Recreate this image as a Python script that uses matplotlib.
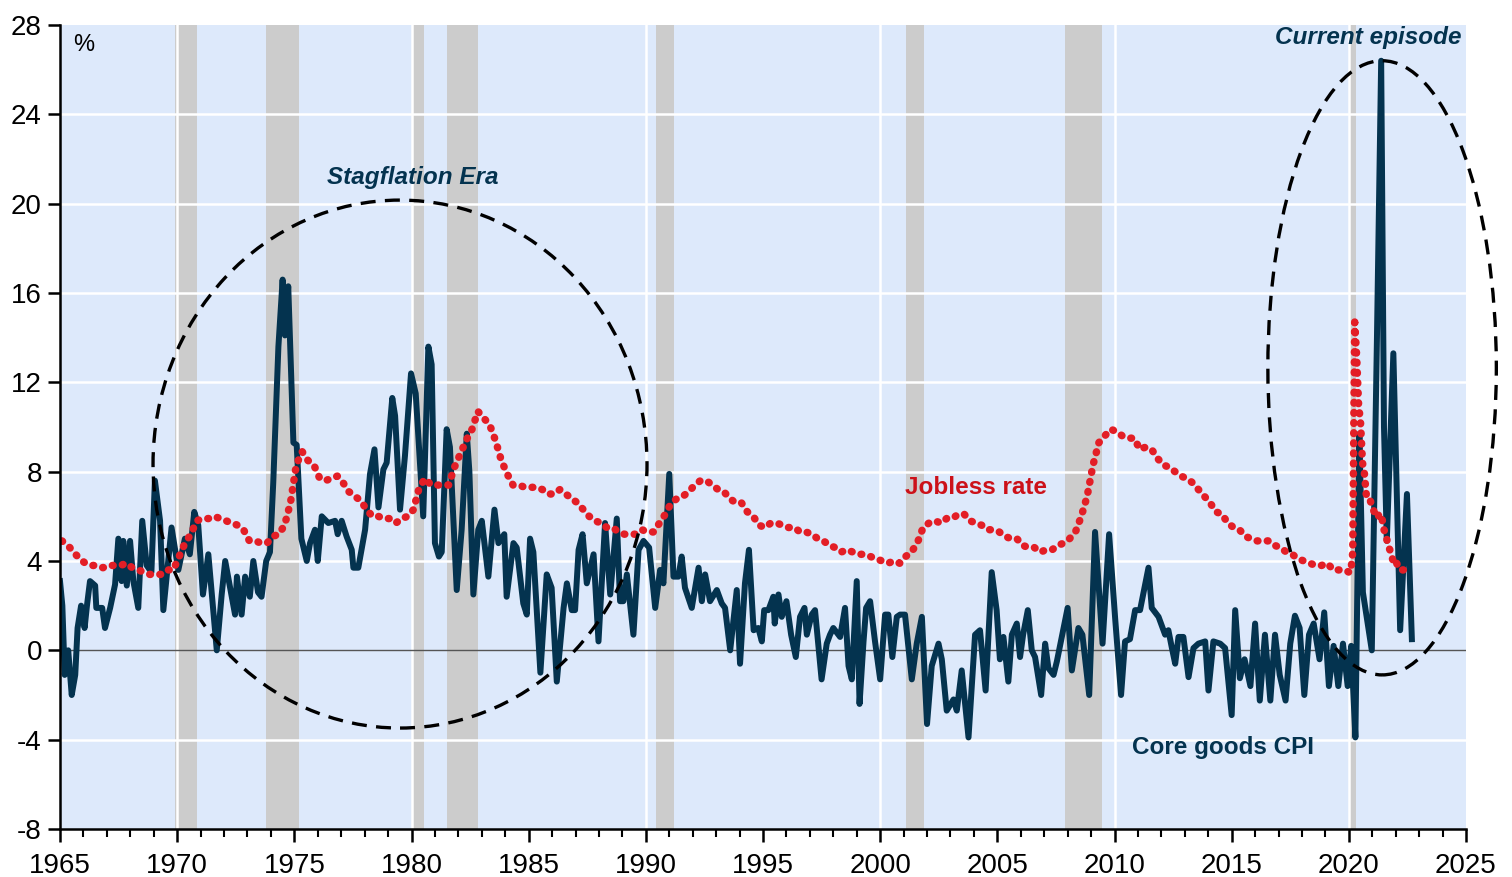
import numpy as np
import matplotlib
matplotlib.use("Agg")
import matplotlib.pyplot as plt
from matplotlib.patches import Ellipse

plt.rcParams['font.family'] = ['Liberation Sans', 'DejaVu Sans']

# ---------------- data ----------------
recessions = [(1969.9, 1970.85), (1973.8, 1975.2), (1980.0, 1980.55), (1981.5, 1982.85),
              (1990.45, 1991.2), (2001.1, 2001.85), (2007.9, 2009.45), (2020.05, 2020.3)]

# Jobless rate, quarterly 1965Q1-2019Q4 (%)
jobless_quarterly = [
    4.9, 4.7, 4.4, 4.1, 3.9, 3.8, 3.8, 3.7, 3.8, 3.8, 3.8, 3.9, 3.7, 3.6, 3.5, 3.4,
    3.4, 3.4, 3.6, 3.6, 4.2, 4.8, 5.2, 5.8, 5.9, 5.9, 6.0, 5.9, 5.8, 5.7, 5.6, 5.4,
    4.9, 4.9, 4.8, 4.8, 5.1, 5.2, 5.6, 6.6, 8.3, 8.9, 8.5, 8.3, 7.7, 7.6, 7.7, 7.8,
    7.5, 7.1, 6.9, 6.7, 6.3, 6.0, 6.0, 5.9, 5.9, 5.7, 5.9, 6.0, 6.3, 7.3, 7.7, 7.4,
    7.4, 7.4, 7.4, 8.2, 8.8, 9.4, 9.9, 10.7, 10.4, 10.1, 9.4, 8.5, 7.9, 7.4, 7.4, 7.3,
    7.3, 7.3, 7.2, 7.0, 7.0, 7.2, 7.0, 6.8, 6.6, 6.3, 6.0, 5.8, 5.7, 5.5, 5.5, 5.3,
    5.2, 5.2, 5.2, 5.4, 5.3, 5.3, 5.7, 6.1, 6.6, 6.8, 6.9, 7.1, 7.4, 7.6, 7.6, 7.4,
    7.2, 7.1, 6.8, 6.6, 6.6, 6.2, 6.0, 5.6, 5.5, 5.7, 5.7, 5.6, 5.5, 5.5, 5.3, 5.3,
    5.2, 5.0, 4.9, 4.7, 4.6, 4.4, 4.5, 4.4, 4.3, 4.3, 4.2, 4.1, 4.0, 3.9, 4.0, 3.9,
    4.2, 4.4, 4.8, 5.5, 5.7, 5.8, 5.7, 5.9, 5.9, 6.1, 6.1, 5.8, 5.7, 5.6, 5.4, 5.4,
    5.3, 5.1, 5.0, 5.0, 4.7, 4.6, 4.6, 4.4, 4.5, 4.5, 4.7, 4.8, 5.0, 5.3, 6.0, 6.9,
    8.3, 9.3, 9.6, 9.9, 9.8, 9.6, 9.5, 9.5, 9.0, 9.1, 9.0, 8.6, 8.3, 8.2, 8.0, 7.8,
    7.7, 7.5, 7.2, 6.9, 6.6, 6.2, 6.1, 5.7, 5.5, 5.4, 5.1, 5.0, 4.9, 4.9, 4.9, 4.7,
    4.6, 4.4, 4.3, 4.1, 4.0, 3.9, 3.8, 3.8, 3.9, 3.6, 3.6, 3.6,
]
# Jobless rate, monthly Jan 2020 - Jul 2022 (%)
jobless_monthly = [
    3.5, 3.5, 4.4, 14.7, 13.2, 11.0, 10.2, 8.4, 7.9, 6.9, 6.7, 6.7,
    6.4, 6.2, 6.0, 6.1, 5.8, 5.9, 5.4, 5.2, 4.7, 4.5, 4.2, 3.9,
    4.0, 3.8, 3.6, 3.6, 3.6, 3.6, 3.5,
]

# Core goods CPI (%): dates and values
cpi_year = [
    1965.0, 1965.1, 1965.2, 1965.35, 1965.5, 1965.65, 1965.75, 1965.9, 1966.05, 1966.15,
    1966.28, 1966.5, 1966.55, 1966.8, 1966.92, 1967.14, 1967.35, 1967.49, 1967.63, 1967.7,
    1967.85, 1967.99, 1968.13, 1968.34, 1968.51, 1968.7, 1968.9, 1969.05, 1969.27, 1969.41,
    1969.76, 1970.05, 1970.33, 1970.54, 1970.73, 1970.9, 1971.1, 1971.33, 1971.69, 1971.9,
    1972.05, 1972.47, 1972.55, 1972.75, 1972.9, 1973.1, 1973.25, 1973.45, 1973.6, 1973.8,
    1973.96, 1974.1, 1974.32, 1974.5, 1974.6, 1974.74, 1974.96, 1975.1, 1975.3,
    1975.53, 1975.67, 1975.88, 1976.0, 1976.17, 1976.45, 1976.74, 1976.85, 1977.02, 1977.23,
    1977.45, 1977.52, 1977.73, 1978.02, 1978.23, 1978.42, 1978.59, 1978.8, 1978.94, 1979.18,
    1979.3, 1979.51, 1979.72, 1979.98, 1980.18, 1980.5, 1980.72, 1980.86, 1981.0, 1981.17,
    1981.29, 1981.5, 1981.64, 1981.93, 1982.14, 1982.36, 1982.47, 1982.64, 1982.85, 1983.0,
    1983.28, 1983.54, 1983.71, 1983.96, 1984.06, 1984.35, 1984.49, 1984.77, 1984.92, 1985.06,
    1985.2, 1985.5, 1985.77, 1985.98, 1986.2, 1986.49, 1986.63, 1986.84, 1986.98, 1987.13,
    1987.3, 1987.48, 1987.77, 1987.98, 1988.26, 1988.48, 1988.76, 1988.9, 1989.04, 1989.19,
    1989.47, 1989.69, 1989.9, 1990.14, 1990.4, 1990.61, 1990.75, 1991.0, 1991.18, 1991.39,
    1991.53, 1991.67, 1991.96, 1992.25, 1992.39, 1992.53, 1992.74, 1993.03, 1993.24, 1993.38,
    1993.6, 1993.88, 1994.02, 1994.23, 1994.4, 1994.6, 1994.8, 1994.95, 1995.05, 1995.23,
    1995.44, 1995.5, 1995.66, 1995.8, 1996.0, 1996.2, 1996.4, 1996.58, 1996.77, 1996.87,
    1997.08, 1997.22, 1997.5, 1997.72, 1997.86, 1998.0, 1998.29, 1998.5, 1998.65, 1998.79,
    1999.0, 1999.12, 1999.29, 1999.4, 1999.57, 1999.78, 2000.0, 2000.21, 2000.35, 2000.52,
    2000.71, 2000.85, 2001.06, 2001.35, 2001.56, 2001.78, 2002.0, 2002.2, 2002.49, 2002.63,
    2002.84, 2003.13, 2003.27, 2003.48, 2003.77, 2004.05, 2004.26, 2004.5, 2004.76, 2004.97,
    2005.11, 2005.26, 2005.47, 2005.62, 2005.83, 2005.97, 2006.1, 2006.3, 2006.47, 2006.61,
    2006.87, 2007.04, 2007.18, 2007.4, 2007.54, 2007.75, 2008.0, 2008.18, 2008.46, 2008.63,
    2008.92, 2009.17, 2009.49, 2009.77, 2010.03, 2010.28, 2010.45, 2010.66, 2010.88, 2011.09,
    2011.45, 2011.59, 2011.88, 2012.16, 2012.3, 2012.45, 2012.59, 2012.73, 2012.94, 2013.16,
    2013.37, 2013.58, 2013.87, 2014.01, 2014.22, 2014.51, 2014.72, 2015.0, 2015.15, 2015.35,
    2015.55, 2015.8, 2016.0, 2016.2, 2016.42, 2016.65, 2016.85, 2017.05, 2017.3, 2017.5,
    2017.7, 2017.9, 2018.1, 2018.3, 2018.5, 2018.75, 2018.95, 2019.15, 2019.35, 2019.55,
    2019.75, 2019.95, 2020.1, 2020.28, 2020.45, 2020.6, 2020.98, 2021.2, 2021.38, 2021.5,
    2021.62, 2021.9, 2022.19, 2022.48, 2022.69,
]
cpi_value = [
    3.1, 2.0, -1.1, 0.0, -2.0, -1.1, 1.0, 2.0, 1.0, 2.0,
    3.1, 2.9, 1.9, 1.9, 1.0, 1.9, 2.95, 5.0, 3.1, 4.9,
    2.9, 4.9, 3.1, 1.9, 5.8, 3.8, 3.5, 7.6, 5.8, 1.8,
    5.5, 3.6, 5.0, 4.3, 6.2, 5.6, 2.5, 4.3, 0.0, 2.5,
    4.0, 1.6, 3.3, 1.6, 3.3, 2.4, 4.0, 2.6, 2.4, 4.0,
    4.4, 7.5, 13.6, 16.6, 14.1, 16.3, 9.3, 9.2, 5.0,
    4.0, 4.8, 5.4, 4.0, 6.0, 5.7, 5.8, 5.2, 5.8, 5.1,
    4.5, 3.7, 3.7, 5.4, 7.9, 9.0, 6.4, 8.1, 8.4, 11.3,
    10.5, 6.3, 8.7, 12.4, 11.5, 6.0, 13.6, 12.8, 4.8, 4.2,
    4.4, 9.9, 9.1, 2.7, 5.4, 9.7, 8.0, 2.5, 5.4, 5.8,
    3.3, 6.3, 4.8, 5.2, 2.4, 4.8, 4.6, 2.1, 1.6, 5.0,
    4.4, -1.0, 3.4, 2.8, -1.4, 1.9, 3.0, 1.8, 1.8, 4.5,
    5.2, 3.0, 4.3, 0.4, 5.7, 2.5, 5.9, 2.2, 2.2, 3.4,
    0.7, 4.5, 4.9, 4.6, 1.9, 3.6, 3.0, 7.9, 3.3, 3.3,
    4.2, 2.8, 1.9, 3.7, 2.2, 3.4, 2.2, 2.7, 2.1, 1.9,
    0.0, 2.7, -0.6, 3.0, 4.5, 0.9, 1.0, 0.4, 1.8, 1.8,
    2.4, 1.2, 2.5, 1.5, 2.2, 0.7, -0.3, 1.5, 1.9, 0.7,
    1.6, 1.8, -1.3, 0.3, 0.7, 1.0, 0.6, 1.9, -0.7, -1.3,
    3.1, -2.4, 0.4, 1.9, 2.2, 0.4, -1.3, 1.6, 1.6, -0.3,
    1.5, 1.6, 1.6, -1.3, 0.3, 1.5, -3.3, -0.7, 0.3, -0.4,
    -2.7, -2.2, -2.7, -0.9, -3.9, 0.7, 0.9, -1.8, 3.5, 1.8,
    -0.4, 0.6, -1.4, 0.7, 1.2, -0.3, 0.7, 1.8, 0.0, -0.3,
    -2.0, 0.3, -0.8, -1.1, -0.5, 0.6, 1.9, -0.9, 1.0, 0.7,
    -2.0, 5.3, 0.3, 5.2, 1.4, -2.0, 0.4, 0.5, 1.8, 1.8,
    3.7, 1.9, 1.5, 0.7, 0.9, 0.1, -0.6, 0.6, 0.6, -1.2,
    0.1, 0.3, 0.4, -1.8, 0.4, 0.3, 0.1, -2.9, 1.8, -1.25,
    -0.4, -1.6, 1.2, -2.25, 0.7, -2.25, 0.7, -1.1, -2.25, 0.3,
    1.55, 1.0, -2.0, 0.7, 1.2, -0.4, 1.7, -1.6, 0.2, -1.6,
    0.3, -1.6, 0.2, -3.9, 9.7, 2.6, 0.0, 14.0, 26.4, 10.0,
    4.9, 13.3, 0.9, 7.0, 0.5,
]

# ---------------- figure ----------------
NAVY = '#04334f'
RED = '#e31e26'
fig = plt.figure(figsize=(15.12, 8.77), dpi=100)
ax = fig.add_axes([60 / 1512, 1 - 829 / 877, (1466 - 60) / 1512, (829 - 25) / 877])
ax.set_xlim(1965, 2025)
ax.set_ylim(-8, 28)
ax.set_facecolor('#dde9fb')

for a, b in recessions:
    ax.axvspan(a, b, color='#cccccc', lw=0, zorder=0.5)

yt = list(range(-8, 29, 4))
for y in yt:
    if y not in (-8, 0, 28):
        ax.axhline(y, color='white', lw=1.8, zorder=1)
for x in range(1970, 2025, 10):
    ax.axvline(x, color='white', lw=1.8, zorder=1)
ax.axhline(0, color='#555555', lw=1.0, zorder=1.5)

jq_dates = 1965 + np.arange(len(jobless_quarterly)) * 0.25 + 1 / 12
jm_dates = 2020 + np.arange(len(jobless_monthly)) / 12
j_dates = np.concatenate([jq_dates, jm_dates])
j_vals = np.concatenate([jobless_quarterly, jobless_monthly])

ax.plot(cpi_year, cpi_value, color=NAVY, lw=4.3, solid_joinstyle='round', zorder=3)
ax.plot(j_dates, j_vals, color=RED, lw=5.4, linestyle=(0, (0.1, 1.25)),
        dash_capstyle='round', zorder=4)

ell_kw = dict(fill=False, ec='black', lw=2.4, linestyle=(0, (4.5, 2.8)), clip_on=False, zorder=5)
ax.add_patch(Ellipse((1979.51, 8.34), 21.08, 23.64, **ell_kw))
ax.add_patch(Ellipse((2021.42, 12.65), 9.75, 27.5, **ell_kw))

for side in ('top', 'right'):
    ax.spines[side].set_visible(False)
for side in ('left', 'bottom'):
    ax.spines[side].set_linewidth(1.8)
    ax.spines[side].set_color('black')
    ax.spines[side].set_zorder(6)

ax.set_yticks(yt)
ax.set_yticklabels([str(v) for v in yt])
ax.set_xticks(range(1965, 2026, 5))
ax.set_xticks(range(1965, 2026, 1), minor=True)
ax.tick_params(axis='both', which='major', direction='out', length=9, width=1.8,
               labelsize=20, color='black')
ax.tick_params(axis='x', which='major', pad=8)
ax.tick_params(axis='y', which='major', pad=4)
ax.tick_params(axis='x', which='minor', direction='out', length=6, width=1.5)

ax.text(1965.55, 27.1, '%', fontsize=17, ha='left', va='center', color='black')
ax.text(1980.07, 21.15, 'Stagflation Era', fontsize=17.5, fontweight='bold', fontstyle='italic',
        color=NAVY, ha='center', va='center')
ax.text(2020.83, 27.42, 'Current episode', fontsize=17.5, fontweight='bold', fontstyle='italic',
        color=NAVY, ha='center', va='center')
ax.text(2004.1, 7.27, 'Jobless rate', fontsize=17.5, fontweight='bold',
        color='#cc1119', ha='center', va='center')
ax.text(2014.64, -4.33, 'Core goods CPI', fontsize=17.5, fontweight='bold',
        color=NAVY, ha='center', va='center')

fig.savefig('out.png', dpi=100)
